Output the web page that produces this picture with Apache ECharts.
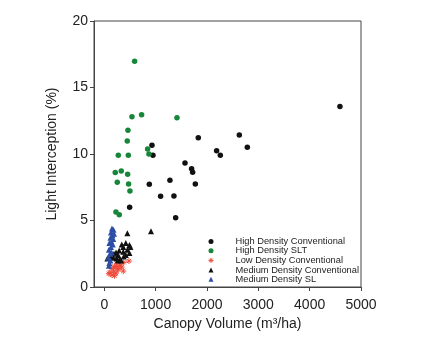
<!DOCTYPE html>
<html>
<head>
<meta charset="utf-8">
<script src="https://cdn.jsdelivr.net/npm/echarts@6/dist/echarts.min.js"></script>
<style>
  html, body { margin: 0; padding: 0; background: #fff; }
  #main { width: 425px; height: 346px; }
</style>
</head>
<body>
<div id="main"></div>
<script>
// canopy volume (m3/ha), light interception (%)
var highConv = [
    [4590, 13.58], [2630, 11.43], [2786, 10.5], [1831, 11.23], [2188, 10.25],
    [2260, 9.9], [929, 10.65], [948, 9.9], [1572, 9.32], [1701, 8.9],
    [1721, 8.62], [1773, 7.74], [1279, 8.02], [877, 7.72], [1097, 6.82],
    [1357, 6.84], [1390, 5.21], [494, 5.99]
];
var highSLT = [
    [591, 16.97], [727, 12.96], [539, 12.81], [1416, 12.73], [461, 11.78],
    [448, 10.98], [844, 10.37], [870, 10.0], [273, 9.9], [468, 9.9],
    [331, 8.72], [214, 8.6], [455, 8.47], [253, 7.87], [474, 7.74],
    [500, 7.22], [227, 5.64], [292, 5.44]
];
var lowConv = [
    [480, 1.95], [380, 1.85], [310, 1.75], [240, 1.65], [200, 1.55],
    [340, 1.5], [150, 1.4], [270, 1.3], [180, 1.2], [370, 1.2],
    [110, 1.1], [230, 1.05], [90, 1.0], [150, 0.9], [200, 0.85],
    [260, 1.4], [310, 1.55]
];
var medConv = [
    [450, 4.05], [910, 4.2], [340, 3.2], [420, 3.3], [490, 3.15],
    [510, 3.0], [370, 3.0], [290, 2.75], [370, 2.65], [450, 2.8],
    [490, 2.55], [230, 2.6], [270, 2.4], [190, 2.5], [130, 2.3],
    [180, 2.2], [240, 2.15], [60, 2.15], [300, 2.1], [380, 2.3],
    [420, 2.4], [330, 2.0], [260, 2.0]
];
var medSL = [
    [150, 4.4], [180, 4.3], [130, 4.1], [190, 4.0], [160, 3.9],
    [120, 3.7], [175, 3.6], [140, 3.4], [100, 3.3], [165, 3.2],
    [130, 3.0], [90, 2.8], [145, 2.6], [110, 2.5], [80, 2.2],
    [120, 2.0], [100, 1.8], [90, 1.6]
];
var xTicks = [0, 1000, 2000, 3000, 4000, 5000];

var font = 'Arial, "Liberation Sans", sans-serif';
var asterisk = 'path://M0,5L10,5M5,0L5,10M1.5,1.5L8.5,8.5M8.5,1.5L1.5,8.5';
var black = '#111', green = '#16873a', red = '#ee4a3a', blue = '#2d4ea6';

var myChart = echarts.init(document.getElementById('main'));
var option = {
    animation: false,
    grid: {
        left: 94, right: 64, top: 21, bottom: 59,
        show: true, borderColor: '#444', borderWidth: 1
    },
    legend: {
        orient: 'vertical',
        left: 201,
        top: 232,
        itemWidth: 5,
        itemHeight: 5,
        itemGap: 0.2,
        textStyle: { fontFamily: font, fontSize: 9.3, lineHeight: 9, color: '#222', padding: [0, 0, 0, 17] },
        data: [
            { name: 'High Density Conventional', icon: 'circle', itemStyle: { color: black } },
            { name: 'High Density SLT', icon: 'circle', itemStyle: { color: green } },
            { name: 'Low Density Conventional', icon: asterisk, itemStyle: { color: 'none', borderColor: red, borderWidth: 1 } },
            { name: 'Medium Density Conventional', icon: 'triangle', itemStyle: { color: black } },
            { name: 'Medium Density SL', icon: 'triangle', itemStyle: { color: blue } }
        ]
    },
    xAxis: {
        type: 'value',
        min: -200,
        max: 5000,
        name: 'Canopy Volume (m³/ha)',
        nameLocation: 'middle',
        nameGap: 30,
        nameTextStyle: { fontFamily: font, fontSize: 14, color: '#222' },
        axisLine: { onZero: false, lineStyle: { color: '#444', width: 1 } },
        axisTick: { show: true, inside: false, length: 4, customValues: xTicks, lineStyle: { color: '#444' } },
        axisLabel: {
            customValues: xTicks, fontFamily: font, fontSize: 14, color: '#222', margin: 11,
            formatter: function (v) { return String(v); }
        },
        splitLine: { show: false }
    },
    yAxis: {
        type: 'value',
        min: 0,
        max: 20,
        interval: 5,
        name: 'Light Interception (%)',
        nameLocation: 'middle',
        nameGap: 35,
        nameTextStyle: { fontFamily: font, fontSize: 14, color: '#222' },
        axisLine: { show: true, onZero: false, lineStyle: { color: '#444', width: 1 } },
        axisTick: { show: true, length: 4, lineStyle: { color: '#444' } },
        axisLabel: { fontFamily: font, fontSize: 14, color: '#222', margin: 6 },
        splitLine: { show: false }
    },
    series: [
        {
            name: 'High Density Conventional',
            type: 'scatter',
            symbol: 'circle',
            symbolSize: 5.5,
            itemStyle: { color: black, opacity: 1 },
            data: highConv
        },
        {
            name: 'High Density SLT',
            type: 'scatter',
            symbol: 'circle',
            symbolSize: 5.5,
            itemStyle: { color: green, opacity: 1 },
            data: highSLT
        },
        {
            name: 'Low Density Conventional',
            type: 'scatter',
            symbol: asterisk,
            symbolSize: 6,
            itemStyle: { color: 'none', borderColor: red, borderWidth: 1, opacity: 1 },
            data: lowConv
        },
        {
            name: 'Medium Density Conventional',
            type: 'scatter',
            symbol: 'triangle',
            symbolSize: 6,
            itemStyle: { color: black, opacity: 1 },
            data: medConv
        },
        {
            name: 'Medium Density SL',
            type: 'scatter',
            symbol: 'triangle',
            symbolSize: 6,
            itemStyle: { color: blue, opacity: 1 },
            data: medSL
        }
    ]
};
myChart.setOption(option);
</script>
</body>
</html>
